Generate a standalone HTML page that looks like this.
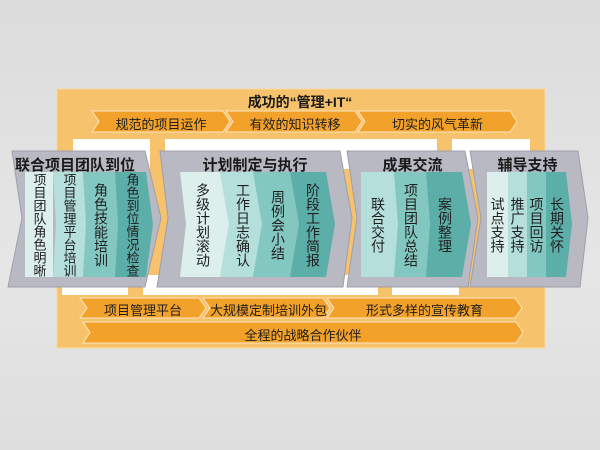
<!DOCTYPE html>
<html><head><meta charset="utf-8"><style>
html,body{margin:0;padding:0}
body{width:600px;height:450px;position:relative;overflow:hidden;background:linear-gradient(#dcdcdc,#e6e6e6 60%,#dedede);font-family:"Liberation Sans","Noto Sans CJK SC",sans-serif;}
svg{position:absolute;left:0;top:0}
.t{position:absolute;font-size:13px;color:#1e1e1e;text-align:center;white-space:nowrap}
.v{position:absolute;writing-mode:vertical-rl;font-size:13px;line-height:13px;color:#1e1e1e;display:flex;align-items:center;justify-content:center;letter-spacing:0}
.h{position:absolute;font-size:15px;font-weight:bold;color:#1a1a1a;white-space:nowrap;text-align:center}
</style></head><body>
<svg width="600" height="450">
<rect x="57" y="89" width="488" height="259" fill="#f6c26c"/>
<rect x="57" y="89" width="488" height="259" fill="none" stroke="#f9d8a0" stroke-width="1"/>
<rect x="73" y="139" width="77" height="30" fill="#fff"/>
<rect x="165" y="139" width="272" height="30" fill="#fff"/>
<rect x="452" y="139" width="78" height="30" fill="#fff"/>
<rect x="62" y="275" width="66" height="20" fill="#fff"/>
<rect x="143" y="275" width="235" height="20" fill="#fff"/>
<rect x="392" y="275" width="67" height="20" fill="#fff"/>
<g fill="#f2a12a" stroke="#fde6bf" stroke-width="1">
<polygon points="92,111 223,111 230,121.5 223,132 92,132 99,121.5"/>
<polygon points="226,111 355,111 362,121.5 355,132 226,132 233,121.5"/>
<polygon points="358,111 510,111 517,121.5 510,132 358,132 365,121.5"/>
<polygon points="80,298 199,298 206,308 199,318 80,318 87,308"/>
<polygon points="203,298 323,298 330,308 323,318 203,318 210,308"/>
<polygon points="327,298 515,298 522,308 515,318 327,318 334,308"/>
<polygon points="83,322 516,322 523,332.5 516,343 83,343 90,332.5"/>
</g>
<g fill="#b8b9c2" stroke="#9fa0aa" stroke-width="1">
<polygon points="12,151 145,151 161,218 145,287 8,287 22,218"/>
<polygon points="160,151 340,151 352,218 343,287 157,287 168,218"/>
<polygon points="347,151 465,151 478,218 468,287 347,287 357,218"/>
<polygon points="470,151 578,151 588,218 580,287 470,287 481,218"/>
</g>
<polygon points="25,172 53,172 53,277 25,277" fill="#dcefec"/>
<polygon points="53,172 83,172 86,224 83,277 53,277 56,224" fill="#b5dfdb"/>
<polygon points="83,172 115,172 118,224 115,277 83,277 86,224" fill="#82c8c1"/>
<polygon points="115,172 146,172 153,224 146,277 115,277 118,224" fill="#5cafa9"/>
<polygon points="180,172 220,172 229,224 220,277 180,277 186,224" fill="#dcefec"/>
<polygon points="220,172 253,172 262,224 253,277 220,277 229,224" fill="#b5dfdb"/>
<polygon points="253,172 290,172 299,224 290,277 253,277 262,224" fill="#82c8c1"/>
<polygon points="290,172 326,172 335,224 326,277 290,277 299,224" fill="#5cafa9"/>
<polygon points="361,172 394,172 398,224 394,277 361,277" fill="#b5dfdb"/>
<polygon points="394,172 426,172 430,224 426,277 394,277 398,224" fill="#82c8c1"/>
<polygon points="426,172 462,172 471,224 462,277 426,277 430,224" fill="#5cafa9"/>
<polygon points="487,172 508,172 508,277 487,277" fill="#dcefec"/>
<polygon points="508,172 527,172 527,277 508,277" fill="#b5dfdb"/>
<polygon points="527,172 546,172 546,277 527,277" fill="#82c8c1"/>
<polygon points="546,172 566,172 572,224 566,277 546,277" fill="#5cafa9"/>
</svg>
<div class="h" style="left:200px;top:92px;width:200px;font-size:14px">成功的“管理+IT“</div>
<div class="t" style="left:99px;top:114px;width:124px">规范的项目运作</div>
<div class="t" style="left:233px;top:114px;width:124px">有效的知识转移</div>
<div class="t" style="left:365px;top:114px;width:145px">切实的风气革新</div>
<div class="t" style="left:87px;top:300px;width:112px">项目管理平台</div>
<div class="t" style="left:210px;top:300px;width:113px">大规模定制培训外包</div>
<div class="t" style="left:334px;top:300px;width:181px">形式多样的宣传教育</div>
<div class="t" style="left:90px;top:325px;width:426px">全程的战略合作伙伴</div>
<div class="h" style="left:15px;top:154px;width:115px;text-align:left">联合项目团队到位</div>
<div class="h" style="left:195px;top:154px;width:120px">计划制定与执行</div>
<div class="h" style="left:370px;top:154px;width:85px">成果交流</div>
<div class="h" style="left:485px;top:154px;width:85px">辅导支持</div>
<div class="v" style="left:25px;top:172px;width:28px;height:105px">项目团队角色明晰</div>
<div class="v" style="left:55px;top:172px;width:28px;height:105px">项目管理平台培训</div>
<div class="v" style="left:86px;top:172px;width:30px;height:105px;font-size:14px;line-height:14px">角色技能培训</div>
<div class="v" style="left:117px;top:172px;width:30px;height:105px">角色到位情况检查</div>
<div class="v" style="left:186px;top:172px;width:34px;height:105px;font-size:14px;line-height:14px">多级计划滚动</div>
<div class="v" style="left:226px;top:172px;width:34px;height:105px;font-size:14px;line-height:14px">工作日志确认</div>
<div class="v" style="left:261px;top:172px;width:34px;height:105px;font-size:14px;line-height:14px">周例会小结</div>
<div class="v" style="left:296px;top:172px;width:34px;height:105px;font-size:14px;line-height:14px">阶段工作简报</div>
<div class="v" style="left:363px;top:172px;width:30px;height:105px;font-size:14px;line-height:14px">联合交付</div>
<div class="v" style="left:396px;top:172px;width:30px;height:105px;font-size:14px;line-height:14px">项目团队总结</div>
<div class="v" style="left:428px;top:172px;width:34px;height:105px;font-size:14px;line-height:14px">案例整理</div>
<div class="v" style="left:487px;top:172px;width:21px;height:105px;font-size:14px;line-height:14px">试点支持</div>
<div class="v" style="left:508px;top:172px;width:19px;height:105px;font-size:14px;line-height:14px">推广支持</div>
<div class="v" style="left:527px;top:172px;width:19px;height:105px;font-size:14px;line-height:14px">项目回访</div>
<div class="v" style="left:547px;top:172px;width:20px;height:105px;font-size:14px;line-height:14px">长期关怀</div>
</body></html>
